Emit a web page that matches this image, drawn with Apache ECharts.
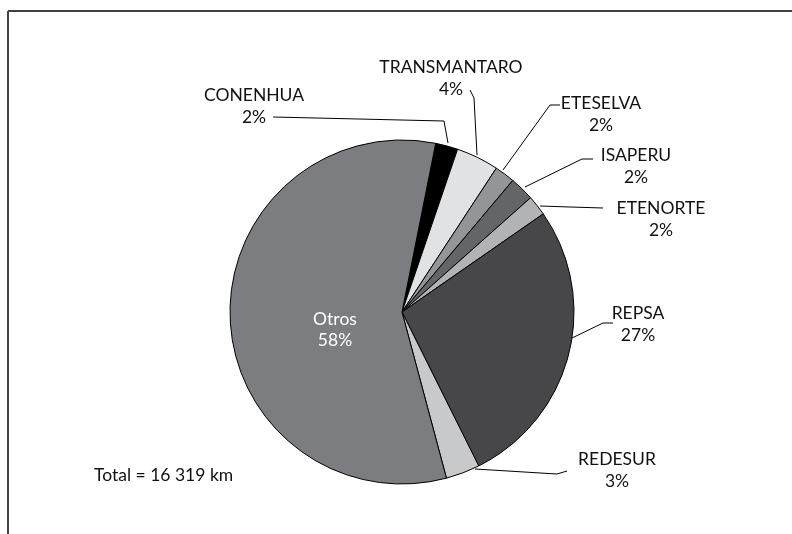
<!DOCTYPE html>
<html>
<head>
    <meta charset="utf-8">
    <title>Pie</title>
    <script src="https://cdn.jsdelivr.net/npm/echarts@6/dist/echarts.min.js"></script>
    <style>
        html, body { margin: 0; padding: 0; background: #fff; }
        #main { width: 792px; height: 534px; }
    </style>
</head>
<body>
    <div id="main"></div>
    <script type="text/javascript">
        // datos (porcentaje de la longitud total)
        var names = ['CONENHUA', 'TRANSMANTARO', 'ETESELVA', 'ISAPERU', 'ETENORTE', 'REPSA', 'REDESUR', 'Otros'];
        var values = [2.1, 4.0, 1.9, 2.3, 1.9, 27.3, 3.2, 57.3];
        var pctLabels = ['2%', '4%', '2%', '2%', '2%', '27%', '3%', '58%'];
        var colors = ['#000000', '#e1e2e4', '#949598', '#646567', '#b2b3b6', '#47474a', '#c8c9cb', '#7c7d80'];
        var totalText = 'Total = 16 319 km';

        // posicion de las etiquetas y sus lineas guia
        var labelPos = [
            { x: 254, y: 106, line: [[448, 143], [444, 121], [273, 117]] },
            { x: 451, y: 78, line: [[477, 155], [474, 98], [470, 90]] },
            { x: 601, y: 114, line: [[503, 170], [550, 105], [560, 105]] },
            { x: 636, y: 166, line: [[525, 187], [582, 159], [593, 159]] },
            { x: 661, y: 219, line: [[540, 206], [570, 207], [603, 208]] },
            { x: 638, y: 324, line: [[572, 338], [603, 323], [613, 323]] },
            { x: 617, y: 470, line: [[475, 469], [557, 474], [567, 471]] },
            { x: 335, y: 330, line: null }
        ];

        var pieData = [];
        for (var i = 0; i < names.length; i++) {
            var item = {
                name: names[i],
                value: values[i],
                itemStyle: { color: colors[i] }
            };
            if (names[i] === 'Otros') {
                item.label = { position: 'inside', color: '#ffffff', lineHeight: 21 };
                item.labelLine = { show: false };
            }
            pieData.push(item);
        }

        var myChart = echarts.init(document.getElementById('main'));

        var option = {
            animation: false,
            textStyle: { fontFamily: 'Lato' },
            graphic: [
                { type: 'line', shape: { x1: 8, y1: 11, x2: 792, y2: 11 }, style: { stroke: '#000', lineWidth: 1.5 } },
                { type: 'line', shape: { x1: 8, y1: 11, x2: 8, y2: 534 }, style: { stroke: '#444', lineWidth: 2 } },
                {
                    type: 'text', left: 94, top: 466,
                    style: { text: totalText, fontSize: 17.5, fontFamily: 'Lato', fill: '#111' }
                }
            ],
            series: [{
                type: 'pie',
                center: [402, 312],
                radius: 172,
                startAngle: 78.7,
                clockwise: true,
                avoidLabelOverlap: false,
                itemStyle: { borderColor: '#000', borderWidth: 1 },
                label: {
                    show: true,
                    position: 'outside',
                    fontSize: 17.5,
                    fontFamily: 'Lato',
                    color: '#111',
                    lineHeight: 22,
                    align: 'center',
                    formatter: function (p) {
                        return p.name + '\n' + pctLabels[p.dataIndex];
                    }
                },
                labelLine: {
                    show: true,
                    lineStyle: { color: '#000', width: 1 }
                },
                labelLayout: function (p) {
                    var L = labelPos[p.dataIndex];
                    var out = {
                        x: L.x,
                        y: L.y,
                        align: 'center',
                        verticalAlign: 'middle'
                    };
                    if (L.line) out.labelLinePoints = L.line;
                    return out;
                },
                emphasis: { disabled: true },
                data: pieData
            }]
        };

        myChart.setOption(option);
    </script>
</body>
</html>
